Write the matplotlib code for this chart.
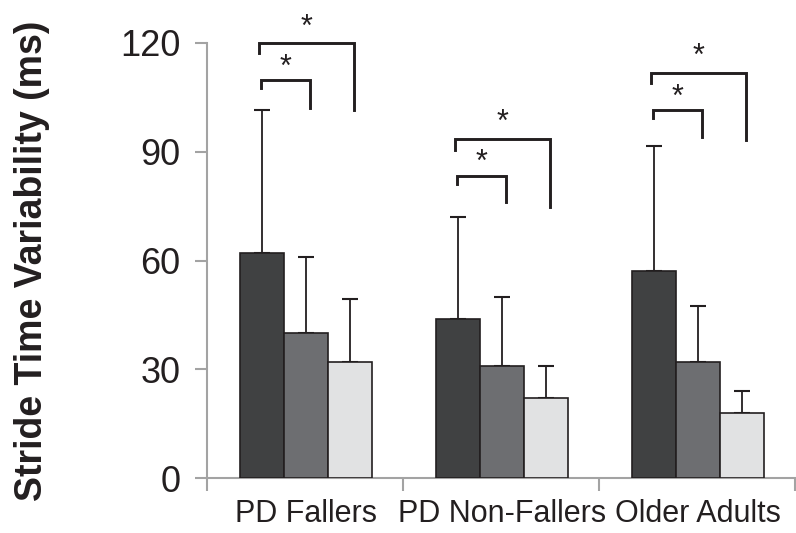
import matplotlib
matplotlib.use("Agg")
import matplotlib.pyplot as plt
import numpy as np

plt.rcParams['font.family'] = ['Liberation Sans', 'DejaVu Sans']

categories = ["PD Fallers", "PD Non-Fallers", "Older Adults"]
means_1 = [62, 44, 57]      # dark bars
means_2 = [40, 31, 32]      # mid-grey bars
means_3 = [32, 22, 18]      # light bars
err_1 = [39.5, 28, 34.5]
err_2 = [21, 19, 15.5]
err_3 = [17.5, 9, 6]
yticks = [0, 30, 60, 90, 120]

# significance brackets: (top, left-end, right-end) for dark-vs-mid (inner) and dark-vs-light (outer)
inner_top = [109.7, 83.2, 101.4]
inner_left = [107.6, 81.0, 99.2]
inner_right = [102.2, 76.1, 94.2]
outer_top = [119.9, 93.4, 111.6]
outer_left = [117.2, 90.5, 108.9]
outer_right = [101.5, 74.8, 93.2]
inner_star = [113.2, 87.0, 104.9]
outer_star = [124.2, 98.0, 116.2]

colors = ["#404142", "#6d6e71", "#e1e2e3"]
edge = "#231f20"
axis_gray = "#a3a3a3"

fig = plt.figure(figsize=(7.96, 5.33), dpi=100)
ax = fig.add_axes([207/796, 1-478/533, 588/796, (478-43)/533])

x = np.arange(len(categories))
w = 0.2245
shift = 0.003
for off, m, e, c in zip([-w, 0, w], [means_1, means_2, means_3],
                        [err_1, err_2, err_3], colors):
    ax.bar(x + off + shift, m, width=w, color=c, edgecolor=edge, linewidth=1.2, zorder=3)
    ax.errorbar(x + off + shift, m, yerr=[np.zeros(len(m)), e], fmt='none',
                ecolor=edge, elinewidth=1.3, capsize=5.5, capthick=1.5, zorder=2)

lw = 2.1
for i in range(len(categories)):
    xl_in = x[i] - w + shift - 0.002
    xl_out = x[i] - w + shift - 0.012
    xr_in = x[i] + shift + 0.02
    xr_out = x[i] + w + shift + 0.02
    ax.plot([xl_in, xl_in, xr_in, xr_in],
            [inner_left[i], inner_top[i], inner_top[i], inner_right[i]],
            color=edge, lw=lw, solid_joinstyle='miter', clip_on=False, zorder=4)
    ax.plot([xl_out, xl_out, xr_out, xr_out],
            [outer_left[i], outer_top[i], outer_top[i], outer_right[i]],
            color=edge, lw=lw, solid_joinstyle='miter', clip_on=False, zorder=4)
    ax.text((xl_in + xr_in) / 2, inner_star[i], "*", ha='center', va='center',
            fontsize=22, color=edge, clip_on=False)
    ax.text((xl_out + xr_out) / 2, outer_star[i], "*", ha='center', va='center',
            fontsize=22, color=edge, clip_on=False)

ax.set_xlim(-0.5, 2.5)
ax.set_ylim(0, 120)
ax.set_yticks(yticks)
ax.set_yticklabels([str(t) for t in yticks], fontsize=26, color="#231f20")
ax.set_xticks([-0.5, 0.5, 1.5, 2.5])
ax.set_xticklabels([])
ax.set_xticks(x + shift, minor=True)
ax.set_xticklabels(categories, minor=True, fontsize=22, color="#231f20")
ax.tick_params(axis='x', which='minor', length=0, pad=15)
ax.tick_params(axis='both', which='major', length=9, width=1.5, color=axis_gray, direction='out')
ax.tick_params(axis='y', pad=10)

for s in ['top', 'right']:
    ax.spines[s].set_visible(False)
for s in ['left', 'bottom']:
    ax.spines[s].set_color(axis_gray)
    ax.spines[s].set_linewidth(1.5)

ax.set_ylabel("Stride Time Variability (ms)", fontsize=27, fontweight='bold', color="#231f20")
ax.yaxis.set_label_coords((50 - 207) / 588, 0.5)

fig.savefig("out.png", dpi=100)
